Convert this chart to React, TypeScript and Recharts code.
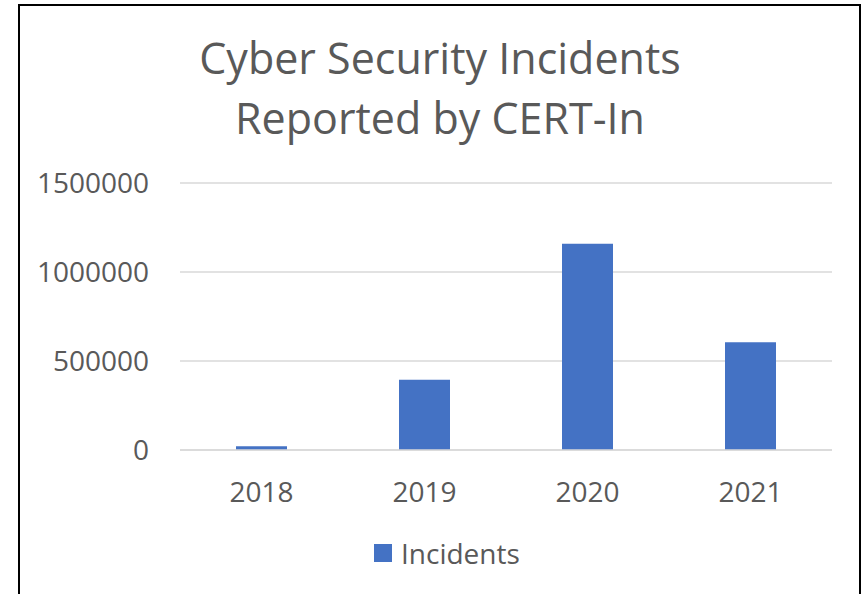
import { BarChart, Bar, XAxis, YAxis, CartesianGrid, Legend } from 'recharts'

const YEARS = ['2018', '2019', '2020', '2021']
const INCIDENTS = [21000, 394499, 1158208, 606000]
const Y_TICKS = [0, 500000, 1000000, 1500000]
const TITLE_LINES = ['Cyber Security Incidents', 'Reported by CERT-In']

const FONT = "'Open Sans', 'Noto Sans', sans-serif"
const TEXT = '#595959'
const BLUE = '#4472C4'

const data = YEARS.map((year, i) => ({ year, Incidents: INCIDENTS[i] }))

function LegendBox() {
  return (
    <div style={{ display: 'flex', alignItems: 'center', fontFamily: FONT, fontSize: 28, color: TEXT }}>
      <span style={{ width: 18, height: 18, background: BLUE, marginRight: 9, display: 'inline-block' }} />
      <span>Incidents</span>
    </div>
  )
}

export default function App() {
  return (
    <div style={{ position: 'absolute', left: 0, top: 0, width: 865, height: 594, overflow: 'hidden', background: '#fff' }}>
      <div
        style={{
          position: 'absolute', left: 18, top: 4, width: 843, height: 620,
          border: '2px solid #000', boxSizing: 'border-box',
        }}
      />
      <svg width={865} height={160} style={{ position: 'absolute', left: 0, top: 0 }}>
        {TITLE_LINES.map((line, i) => (
          <text
            key={line}
            x={440}
            y={73.5 + i * 60.7}
            textAnchor="middle"
            fontFamily={FONT}
            fontSize={43}
            fill={TEXT}
          >
            {line}
          </text>
        ))}
      </svg>
      <div style={{ position: 'absolute', left: 0, top: 0 }}>
        <BarChart width={865} height={594} data={data} margin={{ top: 183, right: 33, bottom: 84, left: 0 }}>
          <CartesianGrid vertical={false} stroke="#D9D9D9" strokeWidth={1.5} />
          <XAxis
            dataKey="year"
            height={60}
            tickLine={false}
            tickSize={0}
            tickMargin={32}
            axisLine={{ stroke: '#D9D9D9', strokeWidth: 1.5 }}
            tick={{ fill: TEXT, fontSize: 28, fontFamily: FONT }}
          />
          <YAxis
            width={180}
            domain={[0, 1500000]}
            ticks={Y_TICKS}
            axisLine={false}
            tickLine={false}
            tickSize={0}
            tickMargin={31}
            tick={{ fill: TEXT, fontSize: 28, fontFamily: FONT }}
          />
          <Legend
            verticalAlign="middle"
            align="center"
            layout="horizontal"
            content={() => <LegendBox />}
            wrapperStyle={{ top: 534, left: 374, width: 'auto' }}
          />
          <Bar dataKey="Incidents" fill={BLUE} barSize={51} isAnimationActive={false} />
        </BarChart>
      </div>
    </div>
  )
}
